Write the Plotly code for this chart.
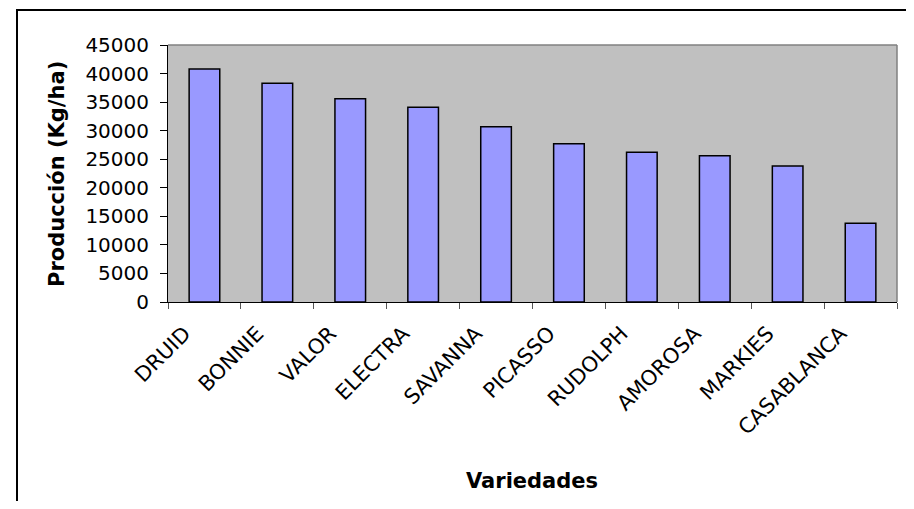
import plotly.graph_objects as go

categories = ["DRUID", "BONNIE", "VALOR", "ELECTRA", "SAVANNA", "PICASSO",
              "RUDOLPH", "AMOROSA", "MARKIES", "CASABLANCA"]
produccion = [40800, 38300, 35600, 34100, 30700, 27700, 26200, 25600, 23800, 13800]
y_ticks = [0, 5000, 10000, 15000, 20000, 25000, 30000, 35000, 40000, 45000]
y_tick_text = [str(v) for v in y_ticks]

FONT = "DejaVu Sans"
OFF = 8  # page body margin

W, H = 906, 493
# plot area in screen px: x 168..897, y 45..302
L = 168 - OFF
T = 45 - OFF
R = W - (897 - OFF)
B = H - (302 - OFF)
pw, ph = W - L - R, H - T - B


def sx(px):
    return (px - OFF - L) / pw


def sy(py):
    return (H - B - (py - OFF)) / ph


fig = go.Figure(go.Bar(
    x=categories, y=produccion,
    marker=dict(color="#9999FF", line=dict(color="black", width=1.5)),
))

fig.update_layout(
    width=W, height=H,
    margin=dict(l=L, r=R, t=T, b=B, pad=0),
    paper_bgcolor="white", plot_bgcolor="#C0C0C0",
    bargap=0.58, showlegend=False,
    font=dict(family=FONT, color="black"),
    xaxis=dict(type="category", showgrid=False, showline=True, linecolor="black",
               linewidth=1, ticks="outside", tickson="boundaries", ticklen=6,
               tickcolor="#555555", tickangle=-45,
               tickfont=dict(family=FONT, size=21, color="black"),
               ticklabelstandoff=10, ticklabelshift=-20),
    yaxis=dict(range=[0, 45000], tickvals=y_ticks, ticktext=y_tick_text,
               showgrid=False, zeroline=False,
               showline=True, linecolor="black", linewidth=1, ticks="outside",
               ticklen=7, tickcolor="black",
               tickfont=dict(family=FONT, size=20, color="black"),
               ticklabelstandoff=7),
    shapes=[
        dict(type="line", xref="paper", yref="paper", x0=0, x1=1, y0=1, y1=1,
             line=dict(color="#808080", width=1.5), layer="above"),
        dict(type="line", xref="paper", yref="paper", x0=1, x1=1, y0=0, y1=1,
             line=dict(color="#808080", width=1.5), layer="above"),
        dict(type="rect", xref="paper", yref="paper",
             x0=sx(17), x1=sx(911), y0=sy(540), y1=sy(10),
             line=dict(color="black", width=2), fillcolor="rgba(0,0,0,0)",
             layer="above"),
    ],
    annotations=[
        dict(text="<b>Variedades</b>", xref="paper", yref="paper",
             x=sx(532), y=sy(481), showarrow=False,
             font=dict(family=FONT, size=21, color="black"),
             xanchor="center", yanchor="middle"),
        dict(text="<b>Producción (Kg/ha)</b>", xref="paper", yref="paper",
             x=sx(57), y=sy(174), showarrow=False, textangle=-90,
             font=dict(family=FONT, size=21, color="black"),
             xanchor="center", yanchor="middle"),
    ],
)

fig.write_html("out.html")
